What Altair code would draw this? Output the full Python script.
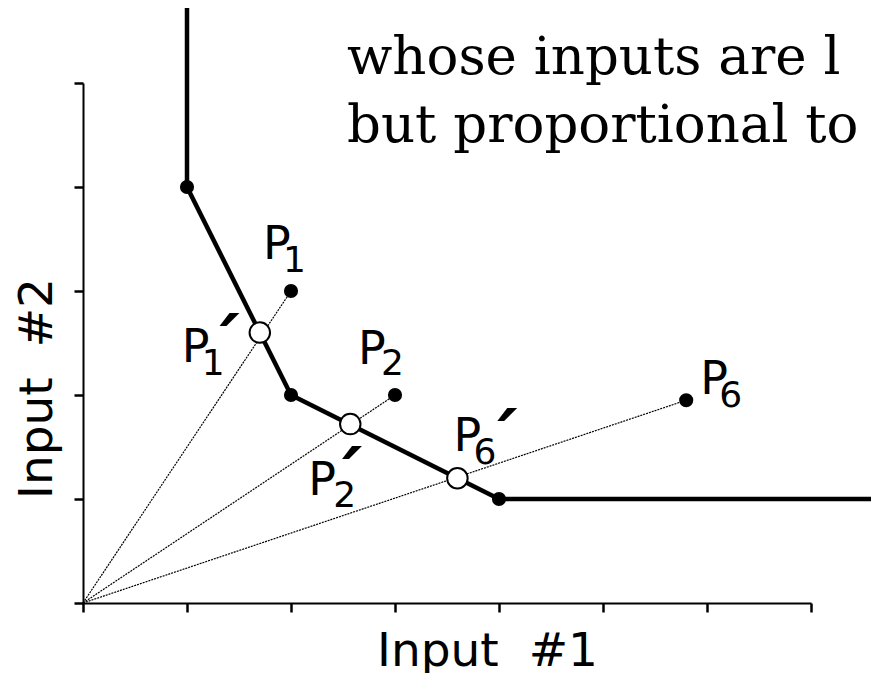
import altair as alt
import pandas as pd

# ---------------- data ----------------
frontier_x = [1, 1, 2, 4, 8]
frontier_y = [5.8, 4, 2, 1, 1]
vertex_x = [1, 2, 4]
vertex_y = [4, 2, 1]

unit_names = ["P1", "P2", "P6"]
unit_x = [2, 3, 5.8]
unit_y = [3, 2, 1.95]

proj_names = ["P1'", "P2'", "P6'"]
proj_x = [1.7, 2.57, 3.6]
proj_y = [2.6, 1.72, 1.2]

subscripts = ["1", "2", "6"]
x_ticks = [0, 1, 2, 3, 4, 5, 6, 7]
y_ticks = [0, 1, 2, 3, 4, 5]
x_title = "Input\u00a0\u00a0#1"
y_title = "Input\u00a0\u00a0#2"
caption_lines = ["on the efficient fro", "whose inputs are l", "but proportional to"]

# ---------------- tables ----------------
frontier_df = pd.DataFrame({"x": frontier_x, "y": frontier_y, "o": list(range(len(frontier_x)))})
vertex_df = pd.DataFrame({"x": vertex_x, "y": vertex_y})
unit_df = pd.DataFrame({"name": unit_names, "x": unit_x, "y": unit_y, "sub": subscripts})
proj_df = pd.DataFrame({"name": proj_names, "x": proj_x, "y": proj_y, "sub": subscripts})

ray_rows = []
for n, x, y in zip(unit_names, unit_x, unit_y):
    ray_rows.append({"unit": n, "x": 0, "y": 0, "o": 0})
    ray_rows.append({"unit": n, "x": x, "y": y, "o": 1})
ray_df = pd.DataFrame(ray_rows)

# ---------------- shared encodings ----------------
X = alt.X(
    "x:Q",
    scale=alt.Scale(domain=[0, 7], nice=False, zero=False),
    axis=alt.Axis(
        values=x_ticks, labels=False, grid=False,
        domainColor="black", domainWidth=2,
        tickColor="black", tickWidth=2.5, tickSize=9,
        title=x_title, titleFont="DejaVu Sans", titleFontSize=47,
        titleFontWeight="normal", titleColor="black",
        titleX=404, titleY=62, titleAlign="center", titleBaseline="alphabetic",
    ),
)
Y = alt.Y(
    "y:Q",
    scale=alt.Scale(domain=[0, 5], nice=False, zero=False),
    axis=alt.Axis(
        values=y_ticks, labels=False, grid=False,
        domainColor="black", domainWidth=2,
        tickColor="black", tickWidth=2.5, tickSize=9,
        title=y_title, titleFont="DejaVu Sans", titleFontSize=47,
        titleFontWeight="normal", titleColor="black",
        titleAngle=270, titleX=-32, titleY=305,
        titleAlign="center", titleBaseline="alphabetic",
    ),
)

rays = alt.Chart(ray_df).mark_line(color="black", strokeWidth=1.2, strokeDash=[2, 1]).encode(
    x=X, y=Y, detail="unit:N", order="o:Q"
)
frontier = alt.Chart(frontier_df).mark_line(color="black", strokeWidth=4.5, strokeJoin="round").encode(
    x=X, y=Y, order="o:Q"
)
vertices = alt.Chart(vertex_df).mark_circle(color="black", size=200, opacity=1).encode(x=X, y=Y)
units = alt.Chart(unit_df).mark_circle(color="black", size=200, opacity=1).encode(x=X, y=Y)
projs = alt.Chart(proj_df).mark_circle(
    fill="white", stroke="black", strokeWidth=2, size=420, opacity=1
).encode(x=X, y=Y)

# label styling: offsets (px) from each point for "P", subscript digit, prime
P_SIZE, SUB_SIZE, PRIME_SIZE = 46, 36, 72
unit_offsets = [((-28, -32), (-8, -19)), ((-37, -31), (-14, -20)), ((14, -6), (33, 7))]
proj_offsets = [((-78, 29), (-58, 42), (-53, 37)),
                ((-42, 71), (-17, 83), (-21, 79)),
                ((-4, -27), (16, -14), (27, -13))]

label_layers = []
for i, offs in enumerate(unit_offsets):
    d = unit_df.iloc[[i]]
    (pdx, pdy), (sdx, sdy) = offs
    label_layers.append(alt.Chart(d).mark_text(
        font="DejaVu Sans", fontSize=P_SIZE, align="left", baseline="alphabetic",
        color="black", dx=pdx, dy=pdy).encode(x=X, y=Y, text=alt.value("P")))
    label_layers.append(alt.Chart(d).mark_text(
        font="DejaVu Sans", fontSize=SUB_SIZE, align="left", baseline="alphabetic",
        color="black", dx=sdx, dy=sdy).encode(x=X, y=Y, text="sub:N"))
for i, offs in enumerate(proj_offsets):
    d = proj_df.iloc[[i]]
    (pdx, pdy), (sdx, sdy), (rdx, rdy) = offs
    label_layers.append(alt.Chart(d).mark_text(
        font="DejaVu Sans", fontSize=P_SIZE, align="left", baseline="alphabetic",
        color="black", dx=pdx, dy=pdy).encode(x=X, y=Y, text=alt.value("P")))
    label_layers.append(alt.Chart(d).mark_text(
        font="DejaVu Sans", fontSize=SUB_SIZE, align="left", baseline="alphabetic",
        color="black", dx=sdx, dy=sdy).encode(x=X, y=Y, text="sub:N"))
    label_layers.append(alt.Chart(d).mark_text(
        font="DejaVu Sans", fontSize=PRIME_SIZE, fontWeight="bold", align="left",
        baseline="alphabetic", color="black", dx=rdx, dy=rdy
    ).encode(x=X, y=Y, text=alt.value("\u00b4")))

caption = alt.Chart(pd.DataFrame({"t": [0]})).mark_text(
    font="DejaVu Serif", fontSize=53, align="left", baseline="alphabetic",
    lineHeight=68, color="black"
).encode(x=alt.value(264), y=alt.value(-77), text=alt.value(caption_lines))

chart = alt.layer(rays, frontier, vertices, units, projs, *label_layers, caption).properties(
    width=728, height=520,
    autosize=alt.AutoSizeParams(type="none"),
    padding={"left": 75, "top": 75, "right": 60, "bottom": 70},
).configure(background="white").configure_view(stroke=None)

chart.save("out.html", embed_options={"renderer": "svg", "actions": False})
